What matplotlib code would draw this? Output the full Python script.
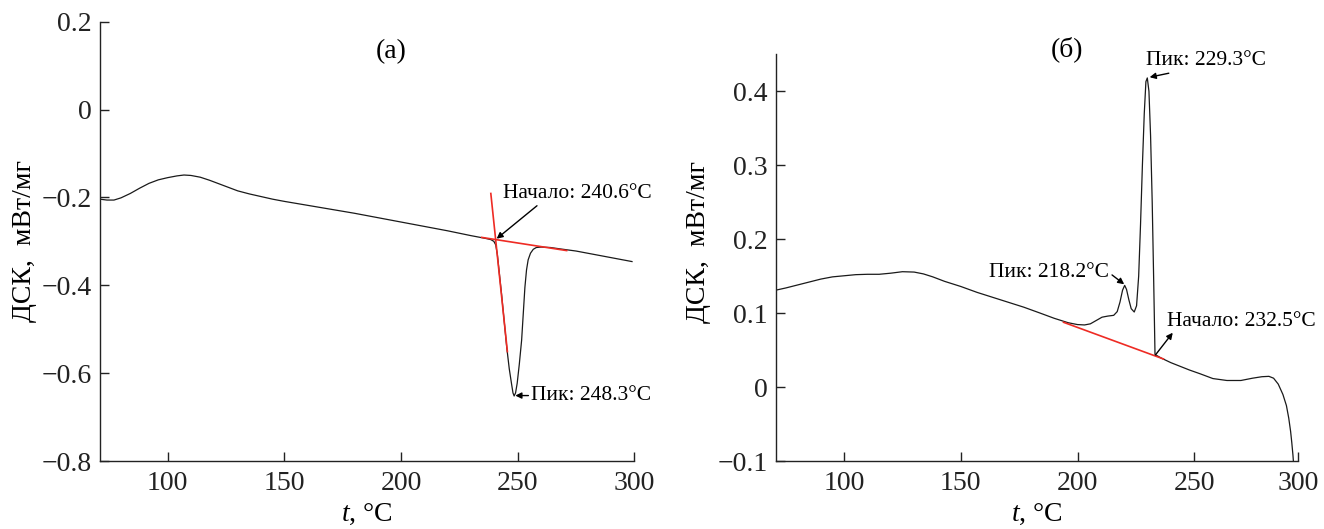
import matplotlib
matplotlib.use('Agg')
import matplotlib.pyplot as plt
from matplotlib.ticker import FuncFormatter

plt.rcParams['font.family'] = ['Liberation Serif', 'DejaVu Serif']
plt.rcParams['mathtext.fontset'] = 'custom'
plt.rcParams['mathtext.rm'] = 'Liberation Serif'
plt.rcParams['mathtext.it'] = 'Liberation Serif:italic'

# panel (a): DSC curve
t_a = [71, 74, 77, 80, 84, 88, 92, 96, 100, 104, 107, 110, 114, 118, 122, 126,
       130, 135, 140, 145, 150, 160, 170, 180, 190, 200, 210, 220, 230, 236,
       238.5, 239.8, 240.6, 241.3, 242.2, 243.1, 244.2, 245.3, 246.4, 247.4,
       248.0, 248.5, 249.1, 249.8, 250.7, 251.7, 252.4, 253.1, 253.8, 254.5,
       255.5, 256.7, 258, 260, 264, 268, 275, 282, 290, 299]
dsc_a = [-0.204, -0.206, -0.206, -0.201, -0.191, -0.179, -0.168, -0.160, -0.155,
         -0.151, -0.149, -0.150, -0.154, -0.161, -0.169, -0.177, -0.185, -0.192,
         -0.198, -0.204, -0.209, -0.218, -0.227, -0.236, -0.246, -0.256, -0.266,
         -0.276, -0.287, -0.293, -0.296, -0.300, -0.308, -0.330, -0.375, -0.420,
         -0.480, -0.540, -0.590, -0.625, -0.645, -0.652, -0.645, -0.623, -0.580,
         -0.525, -0.465, -0.405, -0.365, -0.342, -0.327, -0.318, -0.314, -0.313,
         -0.314, -0.317, -0.322, -0.329, -0.337, -0.346]
# tangent lines (a)
base_a_t = [234.6, 271.0]
base_a_y = [-0.291, -0.321]
tan_a_t = [238.5, 245.6]
tan_a_y = [-0.191, -0.551]

# panel (б): DSC curve
t_b = [70.7, 75, 80, 85, 90, 95, 100, 105, 110, 115, 120, 125, 130, 134, 138,
       143, 150, 157, 163, 170, 177, 184, 190, 196, 200, 203, 205.5, 208, 210.5,
       213, 215.5, 217, 218.2, 219.3, 220.2, 221, 222, 223, 224.3, 225.3, 226.2,
       227, 227.8, 228.6, 229.3, 229.9, 230.6, 231.3, 232, 232.6, 233.0, 233.2,
       236, 240, 244, 248, 252.5, 258, 264, 270, 275, 279, 282, 284, 286, 288,
       289.5, 290.5, 291.3, 291.8, 292.3, 292.6]
dsc_b = [0.131, 0.134, 0.138, 0.142, 0.146, 0.149, 0.1505, 0.152, 0.1525, 0.1525,
         0.154, 0.156, 0.1555, 0.153, 0.149, 0.143, 0.136, 0.128, 0.122, 0.115,
         0.108, 0.100, 0.093, 0.087, 0.0845, 0.084, 0.0855, 0.090, 0.0945, 0.096,
         0.097, 0.102, 0.115, 0.131, 0.1375, 0.132, 0.118, 0.106, 0.1015, 0.110,
         0.150, 0.22, 0.30, 0.37, 0.413, 0.418, 0.40, 0.34, 0.25, 0.15, 0.08,
         0.044, 0.039, 0.033, 0.028, 0.023, 0.018, 0.0115, 0.0089, 0.0089, 0.012,
         0.014, 0.0145, 0.012, 0.004, -0.010, -0.025, -0.042, -0.060, -0.075,
         -0.092, -0.105]
base_b_t = [194.0, 236.8]
base_b_y = [0.0876, 0.038]

yt_a = [-0.8, -0.6, -0.4, -0.2, 0, 0.2]
yt_b = [-0.1, 0, 0.1, 0.2, 0.3, 0.4]
xt = [100, 150, 200, 250, 300]


def fmt(v, pos):
    s = f'{v:.1f}'.rstrip('0').rstrip('.')
    if s in ('-0', ''):
        s = '0'
    return s.replace('-', '\u2212')


fig = plt.figure(figsize=(13.24, 5.29), dpi=100)
ax1 = fig.add_axes([0.0755, 0.1285, 0.4036, 0.8305])
ax2 = fig.add_axes([0.5859, 0.1285, 0.3947, 0.7689])

black = '#1a1a1a'
red = '#ee2b24'
fs = 20
fs_ann = 15.5
arrow = dict(arrowstyle='-|>', color='black', lw=1.0, mutation_scale=9,
             shrinkA=0, shrinkB=0)

ax1.plot(t_a, dsc_a, color=black, lw=0.9, zorder=2)
ax1.plot(base_a_t, base_a_y, color=red, lw=1.2, zorder=3)
ax1.plot(tan_a_t, tan_a_y, color=red, lw=1.2, zorder=3)
ax1.set_xlim(71, 300)
ax1.set_ylim(-0.8, 0.2)
ax1.set_xticks(xt)
ax1.set_yticks(yt_a)
ax1.annotate('Начало: 240.6°C', xy=(241.0, -0.294), xytext=(243.8, -0.191),
             fontsize=fs_ann, va='center', ha='left',
             arrowprops=dict(arrow, relpos=(0.25, 0.0)))
ax1.annotate('Пик: 248.3°C', xy=(249.0, -0.651), xytext=(255.8, -0.651),
             fontsize=fs_ann, va='center', ha='left',
             arrowprops=dict(arrow, relpos=(0.0, 0.5)))
ax1.text(195.8, 0.132, '(а)', fontsize=fs, ha='center', va='center')

ax2.plot(t_b, dsc_b, color=black, lw=0.9, zorder=2)
ax2.plot(base_b_t, base_b_y, color=red, lw=1.2, zorder=3)
ax2.set_xlim(70.7, 294.6)
ax2.set_ylim(-0.1, 0.45)
ax2.set_xticks([100, 150, 200, 250, 294.6])
ax2.set_xticklabels([str(v) for v in xt])
ax2.set_yticks(yt_b)
ax2.annotate('Пик: 229.3°C', xy=(230.9, 0.419), xytext=(229.4, 0.441),
             fontsize=fs_ann, va='center', ha='left',
             arrowprops=dict(arrow, relpos=(0.3, 0.0)))
ax2.annotate('Пик: 218.2°C', xy=(220.0, 0.139), xytext=(213.6, 0.1545),
             fontsize=fs_ann, va='center', ha='right',
             arrowprops=dict(arrow, relpos=(1.0, 0.5)))
ax2.annotate('', xy=(240.8, 0.0735), xytext=(233.4, 0.0435),
             arrowprops=arrow)
ax2.text(238.3, 0.089, 'Начало: 232.5°C', fontsize=fs_ann, va='center',
         ha='left')
ax2.text(195.7, 0.457, '(б)', fontsize=fs, ha='center', va='center',
         clip_on=False)

for ax in (ax1, ax2):
    for side in ('top', 'right'):
        ax.spines[side].set_visible(False)
    for side in ('left', 'bottom'):
        ax.spines[side].set_linewidth(1.0)
        ax.spines[side].set_color('#222222')
    ax.tick_params(direction='in', length=6.5, width=1.0, labelsize=fs,
                   colors='#222222')
    ax.tick_params(axis='x', pad=7)
    ax.tick_params(axis='y', pad=6)
    ax.yaxis.set_major_formatter(FuncFormatter(fmt))
    ax.set_ylabel('ДСК,  мВт/мг', fontsize=fs)
    ax.set_xlabel(r'$t$, °C', fontsize=fs)

ax1.yaxis.set_label_coords(-0.118, 0.50)
ax2.yaxis.set_label_coords(-0.124, 0.538)
ax1.xaxis.set_label_coords(0.5, -0.092)
ax2.xaxis.set_label_coords(0.5, -0.100)

fig.savefig('out.png', dpi=100)
